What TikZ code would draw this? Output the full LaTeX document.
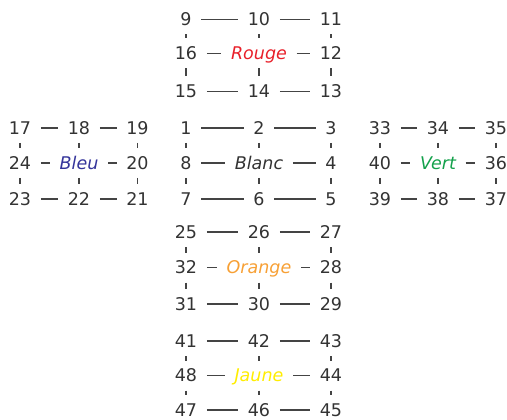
\documentclass[tikz,border=0pt]{standalone}
\usepackage{fontspec}
\setmainfont{DejaVu Sans}
\definecolor{txt}{HTML}{333333}
\definecolor{ln}{HTML}{444444}
\definecolor{rouge}{HTML}{E8202A}
\definecolor{bleu}{HTML}{34349A}
\definecolor{vert}{HTML}{13A14B}
\definecolor{orangec}{HTML}{F7A035}
\definecolor{jaune}{HTML}{FFED00}
\tikzset{
  cell/.style={anchor=base, inner xsep=9.5pt, inner ysep=8.2pt, text height=13pt, text depth=0.2pt,
    font=\fontsize{17.5}{20}\selectfont, text=txt},
  lab/.style={cell, font=\fontsize{17.5}{20}\selectfont\itshape},
  link/.style={draw=ln, line width=1.1pt}
}
\begin{document}
\begin{tikzpicture}[x=1pt,y={(0pt,-1pt)}]
\useasboundingbox (0,0) rectangle (507,420);
% Rouge
\node[cell] (R11) at (186,25.9) {9};
\node[cell] (R12) at (259,25.9) {10};
\node[cell] (R13) at (331,25.9) {11};
\node[cell] (R21) at (186,59.9) {16};
\node[lab,text=rouge] (R22) at (259,59.9) {Rouge};
\node[cell] (R23) at (331,59.9) {12};
\node[cell] (R31) at (186,97.9) {15};
\node[cell] (R32) at (259,97.9) {14};
\node[cell] (R33) at (331,97.9) {13};
% Blanc
\node[cell] (W11) at (186,134.4) {1};
\node[cell] (W12) at (259,134.4) {2};
\node[cell] (W13) at (331,134.4) {3};
\node[cell] (W21) at (186,169.4) {8};
\node[lab] (W22) at (259,169.4) {Blanc};
\node[cell] (W23) at (331,169.4) {4};
\node[cell] (W31) at (186,205.4) {7};
\node[cell] (W32) at (259,205.4) {6};
\node[cell] (W33) at (331,205.4) {5};
% Bleu
\node[cell] (B11) at (20,134.4) {17};
\node[cell] (B12) at (79,134.4) {18};
\node[cell] (B13) at (137.5,134.4) {19};
\node[cell] (B21) at (20,169.4) {24};
\node[lab,text=bleu] (B22) at (79,169.4) {Bleu};
\node[cell] (B23) at (137.5,169.4) {20};
\node[cell] (B31) at (20,205.4) {23};
\node[cell] (B32) at (79,205.4) {22};
\node[cell] (B33) at (137.5,205.4) {21};
% Vert
\node[cell] (G11) at (380,134.4) {33};
\node[cell] (G12) at (438,134.4) {34};
\node[cell] (G13) at (496,134.4) {35};
\node[cell] (G21) at (380,169.4) {40};
\node[lab,text=vert] (G22) at (438,169.4) {Vert};
\node[cell] (G23) at (496,169.4) {36};
\node[cell] (G31) at (380,205.4) {39};
\node[cell] (G32) at (438,205.4) {38};
\node[cell] (G33) at (496,205.4) {37};
% Orange
\node[cell] (O11) at (186,238.4) {25};
\node[cell] (O12) at (259,238.4) {26};
\node[cell] (O13) at (331,238.4) {27};
\node[cell] (O21) at (186,273.9) {32};
\node[lab,text=orangec] (O22) at (259,273.9) {Orange};
\node[cell] (O23) at (331,273.9) {28};
\node[cell] (O31) at (186,310.4) {31};
\node[cell] (O32) at (259,310.4) {30};
\node[cell] (O33) at (331,310.4) {29};
% Jaune
\node[cell] (Y11) at (186,347.4) {41};
\node[cell] (Y12) at (259,347.4) {42};
\node[cell] (Y13) at (331,347.4) {43};
\node[cell] (Y21) at (186,381.9) {48};
\node[lab,text=jaune] (Y22) at (259,381.9) {Jaune};
\node[cell] (Y23) at (331,381.9) {44};
\node[cell] (Y31) at (186,416.4) {47};
\node[cell] (Y32) at (259,416.4) {46};
\node[cell] (Y33) at (331,416.4) {45};
% connectors
\foreach \f in {R,W,B,G,O,Y} {
  \foreach \r in {1,2,3} {
    \draw[link] (\f\r1) -- (\f\r2);
    \draw[link] (\f\r2) -- (\f\r3);
  }
  \foreach \c in {1,2,3} {
    \draw[link] (\f1\c) -- (\f2\c);
    \draw[link] (\f2\c) -- (\f3\c);
  }
}
\end{tikzpicture}
\end{document}
